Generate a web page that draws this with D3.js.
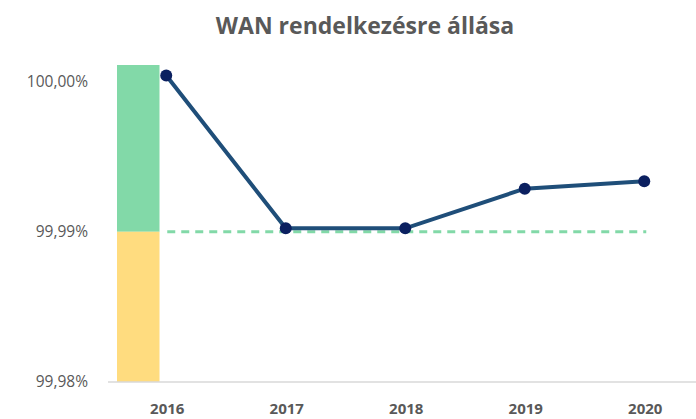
<!DOCTYPE html>
<html>
<head>
<meta charset="utf-8">
<script src="https://cdn.jsdelivr.net/npm/d3@7"></script>
<style>
  body { margin: 0; background: #fff; }
  text { font-family: "Open Sans", "DejaVu Sans", sans-serif; fill: #595959; }
</style>
</head>
<body>
<div id="chart"></div>
<script>
// data
const years = ["2016", "2017", "2018", "2019", "2020"]
const availability = [100.0004, 99.99023, 99.99023, 99.99287, 99.99336]
const target = 99.99
const yTicks = [99.98, 99.99, 100.00]
// background zones: green above target, yellow below
const zones = [
  { from: 99.99, to: 100.0011, color: "#82d9a8" },
  { from: 99.98, to: 99.99, color: "#ffdc7f" }
]

const width = 696, height = 419

const svg = d3.select("#chart")
  .append("svg")
    .attr("width", width)
    .attr("height", height)

const x = d3.scaleBand()
  .domain(years)
  .range([106.5, 704])

const y = d3.scaleLinear()
  .domain([99.98, 100.0011])
  .range([382, 65])

// title
svg.append("text")
  .attr("x", 365)
  .attr("y", 34)
  .attr("text-anchor", "middle")
  .style("font-size", "23px")
  .style("font-weight", "bold")
  .text("WAN rendelkezésre állása")

// zone bar next to the first category
svg.append("g")
  .selectAll("rect")
  .data(zones)
  .join("rect")
    .attr("x", x(years[0]) + 10.5)
    .attr("width", 42.5)
    .attr("y", d => y(d.to))
    .attr("height", d => y(d.from) - y(d.to))
    .attr("fill", d => d.color)

// x axis line
svg.append("line")
  .attr("x1", 108).attr("x2", width)
  .attr("y1", 382).attr("y2", 382)
  .attr("stroke", "#d9d9d9")
  .attr("stroke-width", 1.5)

// y tick labels
const fmt = v => d3.format(".2f")(v).replace(".", ",") + "%"
svg.append("g")
  .selectAll("text")
  .data(yTicks)
  .join("text")
    .attr("x", 88)
    .attr("y", d => y(d))
    .attr("dy", "0.35em")
    .attr("text-anchor", "end")
    .style("font-size", "15.5px")
    .text(fmt)

// x labels
svg.append("g")
  .selectAll("text")
  .data(years)
  .join("text")
    .attr("x", d => x(d) + x.bandwidth() / 2 + 1)
    .attr("y", 414)
    .attr("text-anchor", "middle")
    .style("font-size", "15px")
    .style("font-weight", "bold")
    .text(d => d)

// target dashed line
svg.append("line")
  .attr("x1", x(years[0]) + x.bandwidth() / 2 + 1)
  .attr("x2", x(years[years.length - 1]) + x.bandwidth() / 2 + 2)
  .attr("y1", y(target)).attr("y2", y(target))
  .attr("stroke", "#82d9a8")
  .attr("stroke-width", 3)
  .attr("stroke-dasharray", "8,6")

// availability line
const pts = years.map((d, i) => [x(d) + x.bandwidth() / 2, y(availability[i])])
svg.append("path")
  .datum(pts)
  .attr("d", d3.line())
  .attr("fill", "none")
  .attr("stroke", "#1f4e79")
  .attr("stroke-width", 4)

svg.append("g")
  .selectAll("circle")
  .data(pts)
  .join("circle")
    .attr("cx", d => d[0])
    .attr("cy", d => d[1])
    .attr("r", 6)
    .attr("fill", "#0b2060")
</script>
</body>
</html>
